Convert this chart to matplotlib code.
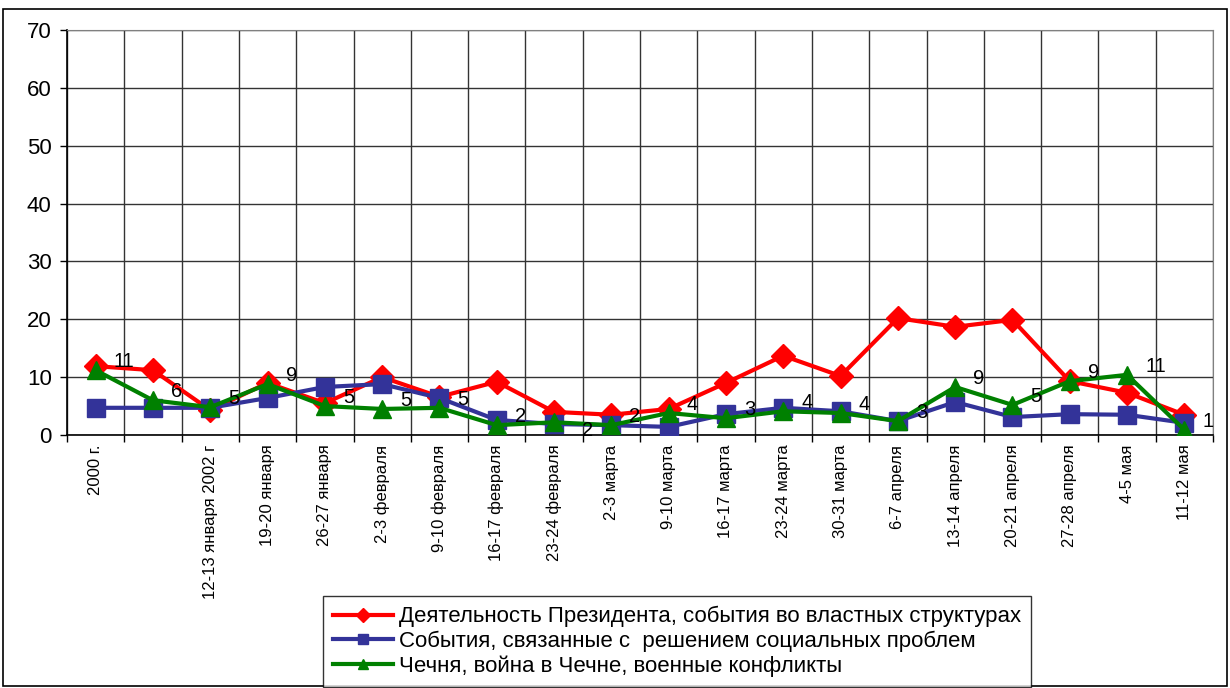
import matplotlib
matplotlib.use('Agg')
import matplotlib.pyplot as plt
import matplotlib.patches as mpatches
import numpy as np

plt.rcParams['font.family'] = ['Liberation Sans', 'DejaVu Sans']

# подписи по оси X
labels = ['2000 г.', '', '12-13 января 2002 г', '19-20 января', '26-27 января',
          '2-3 февраля', '9-10 февраля', '16-17 февраля', '23-24 февраля',
          '2-3 марта', '9-10 марта', '16-17 марта', '23-24 марта', '30-31 марта',
          '6-7 апреля', '13-14 апреля', '20-21 апреля', '27-28 апреля',
          '4-5 мая', '11-12 мая']

president = [11.9, 11.2, 4.3, 9.0, 5.5, 10.0, 6.6, 9.2, 4.0, 3.5,
             4.5, 9.0, 13.7, 10.2, 20.2, 18.7, 19.9, 9.3, 7.3, 3.5]
social = [4.7, 4.7, 4.7, 6.4, 8.3, 8.8, 6.4, 2.6, 1.9, 1.7,
          1.4, 3.6, 4.7, 4.1, 2.4, 5.7, 3.1, 3.6, 3.5, 2.1]
chechnya = [11.2, 6.0, 4.8, 8.8, 5.0, 4.5, 4.7, 1.7, 2.2, 1.7,
            3.8, 2.9, 4.1, 3.8, 2.4, 8.3, 5.2, 9.3, 10.4, 0.9]
chechnya_labels = [11, 6, 5, 9, 5, 5, 5, 2, 2, 2, 4, 3, 4, 4, 3, 9, 5, 9, 11, 1]

names = ['Деятельность Президента, события во властных структурах',
         'События, связанные с  решением социальных проблем',
         'Чечня, война в Чечне, военные конфликты']

fig = plt.figure(figsize=(12.3, 6.88), dpi=100)
ax = fig.add_axes([67 / 1230, 1 - 435 / 688, (1213 - 67) / 1230, (435 - 30) / 688])

x = np.arange(len(labels))
ax.plot(x, president, color='#FF0000', lw=3, marker='D', ms=12,
        label=names[0], zorder=3)
ax.plot(x, social, color='#333399', lw=3, marker='s', ms=12.5,
        label=names[1], zorder=4)
ax.plot(x, chechnya, color='#008000', lw=3, marker='^', ms=13,
        label=names[2], zorder=5)

for i, (v, t) in enumerate(zip(chechnya, chechnya_labels)):
    off = (13, 6) if i != 8 else (20, -6)
    ax.annotate(str(t), (i, v), xytext=off, textcoords='offset points',
                ha='left', va='center', fontsize=14.5, zorder=6)

ax.set_xlim(-0.5, len(labels) - 0.5)
ax.set_ylim(0, 70)
ax.set_yticks(range(0, 71, 10))
ax.set_xticks(x)
ax.set_xticklabels(labels, rotation=90, fontsize=12)
ax.set_xticks(np.arange(-0.5, len(labels), 1), minor=True)
ax.tick_params(axis='x', which='major', length=0, pad=7)
ax.tick_params(axis='x', which='minor', length=5, width=1, color='black')
ax.tick_params(axis='y', labelsize=16, length=5, width=1, pad=6)

ax.grid(True, axis='y', color='#333333', lw=1)
ax.grid(True, axis='x', which='minor', color='#333333', lw=1)
ax.set_axisbelow(True)
for s in ['top', 'right']:
    ax.spines[s].set_color('#808080')
for s in ['left', 'bottom']:
    ax.spines[s].set_color('black')
    ax.spines[s].set_linewidth(1.2)

leg = fig.legend(loc='upper center', bbox_to_anchor=(677 / 1230, 1 - 596 / 688),
                 fontsize=16, frameon=True, fancybox=False, edgecolor='black',
                 handlelength=2.7, labelspacing=0.15, borderpad=0.45,
                 handletextpad=0.3, borderaxespad=0, markerscale=0.6)
leg.get_frame().set_linewidth(1)

fig.patches.append(mpatches.Rectangle((3 / 1230, 2 / 688), 1224 / 1230, 677 / 688,
                                      transform=fig.transFigure, fill=False,
                                      edgecolor='black', lw=1.2))

fig.savefig('out.png', dpi=100)
